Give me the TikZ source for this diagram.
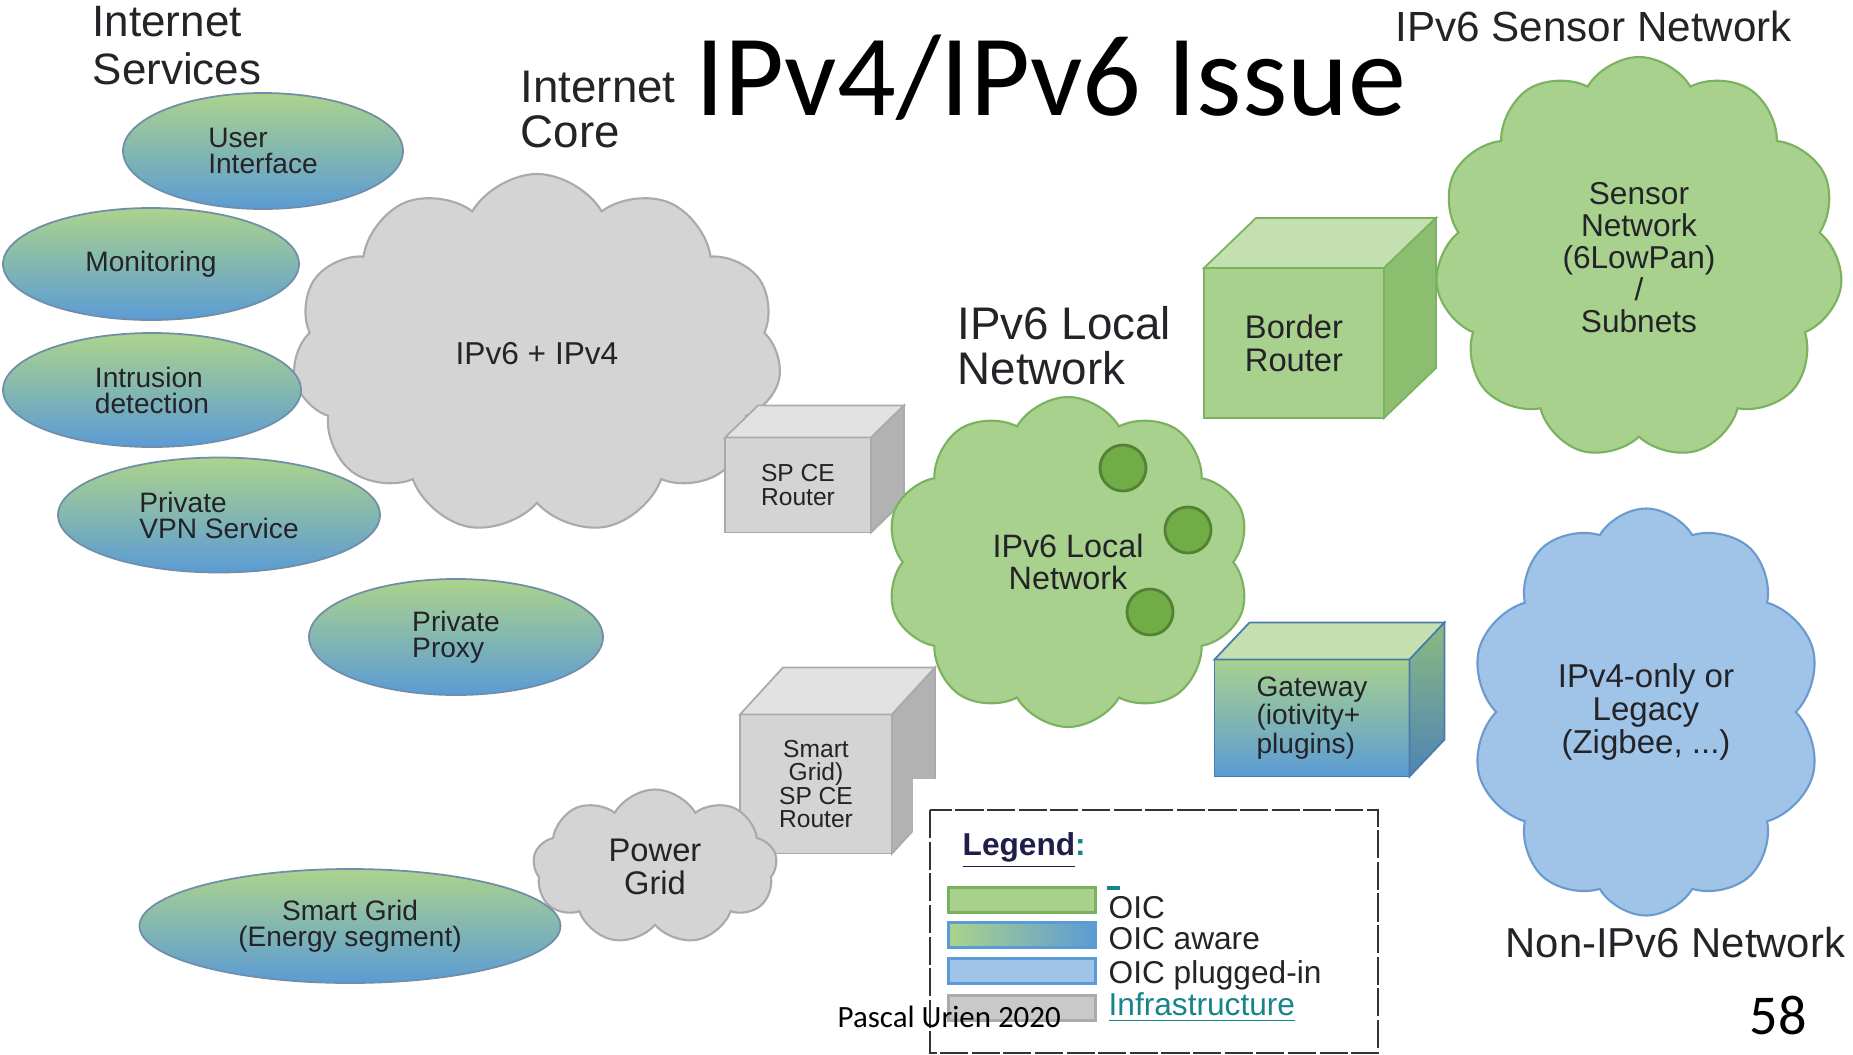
\documentclass[tikz,border=0pt]{standalone}
\usepackage{fontspec}
\setmainfont{Liberation Sans}
\newfontfamily\slidefont{Carlito}
\usetikzlibrary{
    positioning,
    shapes.geometric,
    shapes.symbols,
    calc,
}

\definecolor{oicgreen}{RGB}{169,209,142}
\definecolor{oicgreenline}{RGB}{122,178,96}
\definecolor{oicgreentop}{RGB}{196,224,176}
\definecolor{oicgreenside}{RGB}{140,190,112}
\definecolor{oicblue}{RGB}{91,155,213}
\definecolor{plugblue}{RGB}{160,196,232}
\definecolor{plugline}{RGB}{108,154,206}
\definecolor{infragray}{RGB}{212,212,212}
\definecolor{infraline}{RGB}{170,170,170}
\definecolor{infratop}{RGB}{226,226,226}
\definecolor{infraside}{RGB}{178,178,178}
\definecolor{dotgreen}{RGB}{112,173,71}
\definecolor{dotline}{RGB}{84,130,53}
\definecolor{svcgreen}{RGB}{172,211,140}
\definecolor{svcline}{RGB}{112,142,168}
\definecolor{gwside}{RGB}{140,186,128}
\definecolor{linkteal}{RGB}{22,132,140}
\definecolor{textdark}{RGB}{35,35,40}

% top and right faces of a box drawn behind a front node
\newcommand{\cubefaces}[5]{%
  \path[#4] (#1.north west) -- ++(#2,-#3) -- ($(#1.north east)+(#2,-#3)$) -- (#1.north east) -- cycle;
  \path[#5] (#1.north east) -- ++(#2,-#3) -- ($(#1.south east)+(#2,-#3)$) -- (#1.south east) -- cycle;
}

\tikzset{
    svc/.style={ellipse, draw=svcline, line width=0.5pt, top color=svcgreen,
        bottom color=oicblue, align=left, text=textdark, inner sep=0pt,
        font=\fontsize{8}{7.4}\selectfont},
    net/.style={cloud, cloud puffs=10, cloud puff arc=120, cloud ignores aspect,
        align=center, text=textdark, line width=0.6pt},
    infracloud/.style={net, fill=infragray, draw=infraline},
    oiccloud/.style={net, fill=oicgreen, draw=oicgreenline},
    plugcloud/.style={net, fill=plugblue, draw=plugline},
    front/.style={rectangle, outer sep=0pt, inner sep=0pt, align=center,
        text=textdark, line width=0.5pt},
    infrabox/.style={front, fill=infragray, draw=infraline},
    oicbox/.style={front, fill=oicgreen, draw=oicgreenline},
    gwbox/.style={front, top color=oicgreen, bottom color=oicblue, draw=oicblue!80!black},
    infratopface/.style={fill=infratop, draw=infraline, line width=0.5pt},
    infrasideface/.style={fill=infraside, draw=infraline, line width=0.5pt},
    oictopface/.style={fill=oicgreentop, draw=oicgreenline, line width=0.5pt},
    oicsideface/.style={fill=oicgreenside, draw=oicgreenline, line width=0.5pt},
    gwtopface/.style={fill=oicgreentop, draw=oicblue!80!black, line width=0.5pt},
    gwsideface/.style={top color=gwside, bottom color=oicblue!85!black,
        draw=oicblue!80!black, line width=0.5pt},
    dot/.style={circle, fill=dotgreen, draw=dotline, line width=0.8pt,
        minimum size=4.6mm, inner sep=0pt},
    heading/.style={inner sep=0pt, align=left, text=textdark},
    swatch/.style={rectangle, minimum width=14.7mm, minimum height=2.5mm,
        inner sep=0pt, line width=0.6pt},
    legendtext/.style={inner sep=0pt, anchor=base west, text=textdark,
        font=\fontsize{9}{9}\selectfont},
}

\begin{document}
\begin{tikzpicture}[x=0.1mm, y=-0.1mm]
    \fill[white] (0,0) rectangle (1853,1055);
    \useasboundingbox (0,0) rectangle (1853,1055);

    % internet core and its routers
    \node[infracloud, cloud puffs=11, minimum width=48.9mm, minimum height=36mm,
        font=\fontsize{9}{9}\selectfont] (core) at (537,354) {IPv6 + IPv4};
    \node[infrabox, minimum width=14.6mm, minimum height=9.5mm,
        font=\fontsize{7}{6.6}\selectfont] (spce) at (798,485) {SP CE\\Router};
    \cubefaces{spce}{33}{32}{infratopface}{infrasideface}
    \node[infrabox, minimum width=15.2mm, minimum height=13.9mm,
        font=\fontsize{7}{6.7}\selectfont] (sgce) at (816,784) {Smart\\Grid)\\SP CE\\Router};
    \cubefaces{sgce}{43}{47}{infratopface}{infrasideface}
    \node[infracloud, cloud puffs=9, minimum width=24.4mm, minimum height=15.5mm,
        font=\fontsize{9.3}{9.3}\selectfont] (power) at (655,867) {Power\\Grid};

    % internet services
    \node[svc, minimum width=28mm, minimum height=11.6mm] (ui) at (263,151) {User\\Interface};
    \node[svc, minimum width=29.6mm, minimum height=11.2mm] (mon) at (151,264) {Monitoring};
    \node[svc, minimum width=29.8mm, minimum height=11.4mm] (ids) at (152,390) {Intrusion\\detection};
    \node[svc, minimum width=32.2mm, minimum height=11.5mm] (vpn) at (219,515) {Private\\VPN Service};
    \node[svc, minimum width=29.4mm, minimum height=11.6mm] (proxy) at (456,637) {Private\\Proxy};
    \node[svc, align=center, minimum width=42.1mm, minimum height=11.4mm] (sgrid) at (350,926)
        {Smart Grid\\(Energy segment)};

    % ipv6 side
    \node[oicbox, minimum width=18mm, minimum height=15mm,
        font=\fontsize{9.3}{9.3}\selectfont] (border) at (1294,343) {Border\\Router};
    \cubefaces{border}{52}{50}{oictopface}{oicsideface}
    \node[gwbox, align=left, minimum width=19.5mm, minimum height=11.7mm,
        font=\fontsize{8}{8.2}\selectfont] (gw) at (1312,718) {Gateway\\(iotivity+\\plugins)};
    \cubefaces{gw}{35}{37}{gwtopface}{gwsideface}
    \node[oiccloud, minimum width=36.5mm, minimum height=33mm,
        font=\fontsize{9.2}{9.1}\selectfont] (local) at (1068,562) {IPv6 Local\\Network};
    \foreach \n/\pos in {1/{(1123,468)}, 2/{(1188,530)}, 3/{(1150,612)}}
        \node[dot] (dot\n) at \pos {};
    \node[oiccloud, cloud puffs=11, minimum width=40.8mm, minimum height=40.2mm,
        font=\fontsize{9}{9.1}\selectfont] (sensor) at (1639,258)
        {Sensor\\Network\\(6LowPan)\\/\\Subnets};
    \node[plugcloud, minimum width=35.1mm, minimum height=40.7mm,
        font=\fontsize{9.4}{9.4}\selectfont] (legacy) at (1646,712)
        {IPv4-only or\\Legacy\\(Zigbee, ...)};

    % headings
    \node[heading, anchor=north west, font=\fontsize{12.5}{13.5}\selectfont] (svchead) at (92,6)
        {Internet\\Services};
    \node[heading, anchor=north west, font=\fontsize{13}{12.8}\selectfont] (corehead) at (520,70)
        {Internet\\Core};
    \node[heading, anchor=north west, font=\fontsize{13}{12.8}\selectfont] (localhead) at (957,306)
        {IPv6 Local\\Network};
    \node[heading, anchor=base west, font=\fontsize{12}{12}\selectfont] (sensorhead) at (1395,41)
        {IPv6 Sensor Network};
    \node[heading, anchor=base west, font=\fontsize{11.9}{12}\selectfont] (legacyhead) at (1505,957)
        {Non-IPv6 Network};
    \node[inner sep=0pt, anchor=base west, font=\slidefont\fontsize{33}{33}\selectfont] (title)
        at (695,115) {IPv4/IPv6 Issue};

    % legend
    \fill[white] (913,779) rectangle (1385,1055);
    \draw[gray!40!black, line width=0.8pt, dash pattern=on 8pt off 1pt] (930,810) rectangle (1378,1053);
    \node[legendtext, text=textdark!85!blue] (legtitle) at (962,855)
        {\bfseries\underline{Legend}{\color{linkteal}:}};
    \node[swatch, fill=oicgreen, draw=oicgreenline] (sw1) at (1022,900) {};
    \node[swatch, left color=svcgreen, right color=oicblue, draw=oicblue] (sw2) at (1022,935) {};
    \node[swatch, fill=plugblue, draw=oicblue] (sw3) at (1022,971) {};
    \node[swatch, fill=infragray!95!black, draw=infraline] (sw4) at (1022,1008) {};
    \draw[linkteal, line width=0.9pt] (1107,888) -- (1120,888);
    \node[legendtext] (leg1) at (1108,918) {OIC};
    \node[legendtext] (leg2) at (1108,949) {OIC aware};
    \node[legendtext] (leg3) at (1108,983) {OIC plugged-in};
    \node[legendtext, text=linkteal] (leg4) at (1108,1015) {\underline{Infrastructure}};

    % footer
    \node[inner sep=0pt, anchor=base west, font=\slidefont\fontsize{8.8}{9}\selectfont] (author)
        at (837,1027) {Pascal Urien 2020};
    \node[inner sep=0pt, anchor=base west, font=\slidefont\fontsize{16}{16}\selectfont] (page)
        at (1749,1034) {58};
\end{tikzpicture}
\end{document}
